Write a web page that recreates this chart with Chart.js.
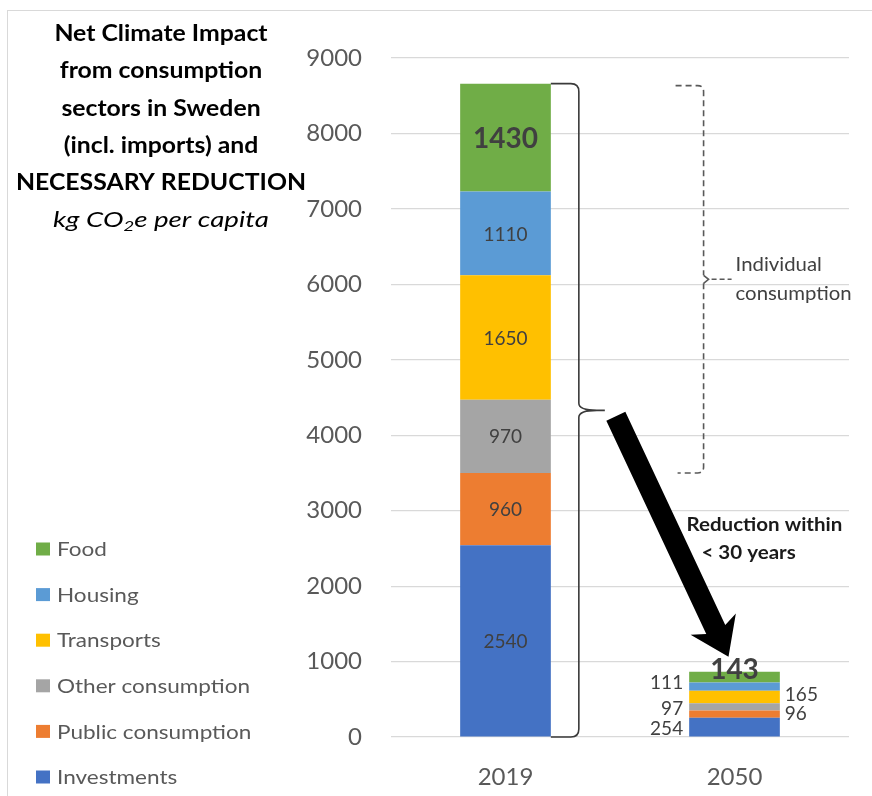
<!DOCTYPE html>
<html><head><meta charset="utf-8">
<script src="https://cdn.jsdelivr.net/npm/chart.js@4.4.0/dist/chart.umd.min.js"></script>
<style>html,body{margin:0;padding:0;background:#fff;}canvas{display:block}</style>
</head><body>
<canvas id="c" width="872" height="796"></canvas>
<script>
// ---------- DATA ----------
const categories = ['2019', '2050'];
const seriesNames = ['Investments', 'Public consumption', 'Other consumption', 'Transports', 'Housing', 'Food'];
const investments = [2540, 254];
const publicConsumption = [960, 96];
const otherConsumption = [970, 97];
const transports = [1650, 165];
const housing = [1110, 111];
const food = [1430, 143];
const yTicks = [0, 1000, 2000, 3000, 4000, 5000, 6000, 7000, 8000, 9000];
const titleLines = ['Net Climate Impact', 'from consumption', 'sectors in Sweden', '(incl. imports) and', 'NECESSARY REDUCTION'];
const individualLabel = ['Individual', 'consumption'];
const reductionLabel = ['Reduction within', '< 30 years'];

// ---------- STYLE ----------
const seriesColors = ['#4472C4', '#ED7D31', '#A5A5A5', '#FFC000', '#5B9BD5', '#70AD47'];
const FONT = 'Lato, "Open Sans", sans-serif';
const seriesData = [investments, publicConsumption, otherConsumption, transports, housing, food];

const datasets = seriesNames.map((n, i) => ({
  label: n,
  data: seriesData[i],
  backgroundColor: seriesColors[i],
  borderWidth: 0,
  barPercentage: 0.396,
  categoryPercentage: 1.0
}));

function stretchFactor(ctx, text, target) {
  return target / ctx.measureText(text).width;
}
function sText(ctx, text, x, y, k, align) {
  ctx.save();
  ctx.translate(x, y);
  ctx.scale(k, 1);
  ctx.textAlign = align || 'left';
  ctx.fillText(text, 0, 0);
  ctx.restore();
}

const annot = {
  id: 'annot',
  afterDatasetsDraw(chart) {
    const { ctx, scales: { x, y } } = chart;
    ctx.save();
    // ---- data labels ----
    const side2050 = ['L', 'R', 'L', 'R', 'L', 'C'];
    const dy2050 = [2, 0, 2, -2, -4, -7];
    chart.data.datasets.forEach((ds, di) => {
      const meta = chart.getDatasetMeta(di);
      meta.data.forEach((bar, i) => {
        const v = ds.data[i];
        const cy = (bar.y + bar.base) / 2;
        const isFood = di === 5;
        ctx.fillStyle = '#404040';
        ctx.textBaseline = 'middle';
        if (i === 0) {
          ctx.font = isFood ? 'bold 28px ' + FONT : '19px ' + FONT;
          ctx.textAlign = 'center';
          ctx.fillText(String(v), bar.x, cy + 1);
        } else {
          const side = side2050[di];
          const half = bar.width / 2;
          if (side === 'C') {
            ctx.font = 'bold 28px ' + FONT;
            ctx.textAlign = 'center';
            ctx.fillText(String(v), bar.x, cy + dy2050[di]);
          } else {
            ctx.font = '19px ' + FONT;
            ctx.textAlign = side === 'L' ? 'right' : 'left';
            const tx = side === 'L' ? bar.x - half - 6 : bar.x + half + 5;
            ctx.fillText(String(v), tx, cy + dy2050[di]);
          }
        }
      });
    });

    const total0 = seriesData.reduce((s, a) => s + a[0], 0);
    const total1 = seriesData.reduce((s, a) => s + a[1], 0);
    const bar0 = chart.getDatasetMeta(0).data[0];
    const right0 = bar0.x + bar0.width / 2;
    const yTop = y.getPixelForValue(total0);
    const yBot = y.getPixelForValue(0);
    const yMid = (yTop + yBot) / 2;

    // ---- curly brace ----
    const bx = right0 + 28;
    const tipX = right0 + 54;
    ctx.strokeStyle = '#3a3a3a';
    ctx.lineWidth = 1.6;
    ctx.beginPath();
    ctx.moveTo(right0, yTop);
    ctx.lineTo(bx - 8, yTop);
    ctx.quadraticCurveTo(bx, yTop, bx, yTop + 8);
    ctx.lineTo(bx, yMid - 7);
    ctx.quadraticCurveTo(bx, yMid, tipX - 8, yMid);
    ctx.lineTo(tipX, yMid);
    ctx.moveTo(tipX - 8, yMid);
    ctx.quadraticCurveTo(bx, yMid, bx, yMid + 7);
    ctx.lineTo(bx, yBot - 8);
    ctx.quadraticCurveTo(bx, yBot, bx - 8, yBot);
    ctx.lineTo(right0, yBot);
    ctx.stroke();

    // ---- dashed bracket (individual consumption) ----
    const indivBottomVal = investments[0] + publicConsumption[0];
    const dTop = y.getPixelForValue(total0) + 2;
    const dBot = y.getPixelForValue(indivBottomVal);
    const dMid = (dTop + dBot) / 2;
    const dx = x.getPixelForValue(0.865);
    ctx.strokeStyle = '#595959';
    ctx.lineWidth = 1.6;
    ctx.setLineDash([6, 4]);
    ctx.beginPath();
    ctx.moveTo(dx - 28, dTop);
    ctx.lineTo(dx - 6, dTop);
    ctx.quadraticCurveTo(dx, dTop, dx, dTop + 6);
    ctx.lineTo(dx, dMid - 4);
    ctx.stroke();
    ctx.beginPath();
    ctx.moveTo(dx, dMid + 4);
    ctx.lineTo(dx, dBot - 6);
    ctx.quadraticCurveTo(dx, dBot, dx - 6, dBot);
    ctx.lineTo(dx - 26, dBot);
    ctx.stroke();
    ctx.setLineDash([]);
    ctx.beginPath();
    ctx.moveTo(dx, dMid - 4);
    ctx.lineTo(dx + 5, dMid);
    ctx.lineTo(dx, dMid + 4);
    ctx.stroke();
    ctx.setLineDash([5, 3]);
    ctx.beginPath();
    ctx.moveTo(dx + 8, dMid);
    ctx.lineTo(dx + 28, dMid);
    ctx.stroke();
    ctx.setLineDash([]);

    ctx.fillStyle = '#404040';
    ctx.font = '19px ' + FONT;
    ctx.textBaseline = 'middle';
    const ki = stretchFactor(ctx, individualLabel[1], 116);
    sText(ctx, individualLabel[0], dx + 32, dMid - 14, ki, 'left');
    sText(ctx, individualLabel[1], dx + 32, dMid + 15, ki, 'left');

    // ---- big arrow ----
    const sx = tipX + 11, sy = yMid + 6;
    const ex = x.getPixelForValue(1) - 6, ey = y.getPixelForValue(total1) - 15;
    const ang = Math.atan2(ey - sy, ex - sx);
    const len = Math.hypot(ex - sx, ey - sy);
    const shaftW = 21, headW = 50, headL = 30;
    ctx.save();
    ctx.translate(sx, sy);
    ctx.rotate(ang);
    ctx.fillStyle = '#000';
    ctx.beginPath();
    ctx.moveTo(0, -shaftW / 2);
    ctx.lineTo(len - headL, -shaftW / 2);
    ctx.lineTo(len - headL - 6, -headW / 2);
    ctx.lineTo(len, 0);
    ctx.lineTo(len - headL - 6, headW / 2);
    ctx.lineTo(len - headL, shaftW / 2);
    ctx.lineTo(0, shaftW / 2);
    ctx.closePath();
    ctx.fill();
    ctx.restore();

    // ---- reduction text ----
    ctx.fillStyle = '#1a1a1a';
    ctx.font = 'bold 18px ' + FONT;
    const kr = stretchFactor(ctx, reductionLabel[0], 156);
    const rx = x.getPixelForValue(0.79);
    sText(ctx, reductionLabel[0], rx, y.getPixelForValue(2810), kr, 'left');
    sText(ctx, reductionLabel[1], rx + 15, y.getPixelForValue(2440), kr, 'left');

    ctx.restore();
  },
  afterDraw(chart) {
    const { ctx } = chart;
    ctx.save();
    // frame
    ctx.strokeStyle = '#d9d9d9';
    ctx.lineWidth = 1;
    ctx.strokeRect(7.5, 10.5, 900, 900);

    // title
    ctx.fillStyle = '#000';
    ctx.textBaseline = 'middle';
    ctx.font = 'bold 22px ' + FONT;
    const kt = stretchFactor(ctx, titleLines[4], 290);
    const tcx = 161;
    titleLines.forEach((t, i) => {
      sText(ctx, t, tcx, 34 + i * 37.3, kt, 'center');
    });
    // italic subtitle with subscript
    const partsA = 'kg CO', partsB = '2', partsC = 'e per capita';
    ctx.font = 'italic 21px ' + FONT;
    const nA = ctx.measureText(partsA).width;
    const nC = ctx.measureText(partsC).width;
    ctx.font = 'italic 14px ' + FONT;
    const nB = ctx.measureText(partsB).width;
    const ks = 216 / (nA + nB + nC);
    let px = tcx - 108;
    const py = 220;
    ctx.font = 'italic 21px ' + FONT;
    sText(ctx, partsA, px, py, ks, 'left');
    px += nA * ks;
    ctx.font = 'italic 14px ' + FONT;
    sText(ctx, partsB, px, py + 6, ks, 'left');
    px += nB * ks;
    ctx.font = 'italic 21px ' + FONT;
    sText(ctx, partsC, px, py, ks, 'left');

    // legend (top-to-bottom: reverse stack order)
    ctx.font = '19px ' + FONT;
    const kl = stretchFactor(ctx, 'Other consumption', 193);
    ctx.textBaseline = 'middle';
    for (let k = 0; k < seriesNames.length; k++) {
      const di = seriesNames.length - 1 - k;
      const cy = 549 + k * 45.6;
      ctx.fillStyle = seriesColors[di];
      ctx.fillRect(36, cy - 6.5, 14, 13);
      ctx.fillStyle = '#595959';
      sText(ctx, seriesNames[di], 57, cy + 1, kl, 'left');
    }
    ctx.restore();
  }
};

new Chart(document.getElementById('c'), {
  type: 'bar',
  data: { labels: categories, datasets },
  plugins: [annot],
  options: {
    responsive: false,
    animation: false,
    devicePixelRatio: 1,
    layout: { padding: { left: 0, right: 23, top: 58, bottom: 0 } },
    plugins: { legend: { display: false }, tooltip: { enabled: false }, title: { display: false } },
    scales: {
      x: {
        stacked: true,
        grid: { display: false },
        border: { display: false },
        ticks: { color: '#595959', font: { family: FONT, size: 24 }, padding: 18 },
        afterFit(s) { s.height = 796 - 737; }
      },
      y: {
        stacked: true,
        min: 0, max: 9000,
        afterBuildTicks(s) { s.ticks = yTicks.map(v => ({ value: v })); },
        grid: { color: '#d9d9d9', lineWidth: 1.2, drawTicks: false },
        border: { display: false },
        ticks: { color: '#595959', font: { family: FONT, size: 24 }, padding: 29, callback: (v) => String(v) },
        afterFit(s) { s.width = 391; }
      }
    }
  }
});
</script>
</body></html>
